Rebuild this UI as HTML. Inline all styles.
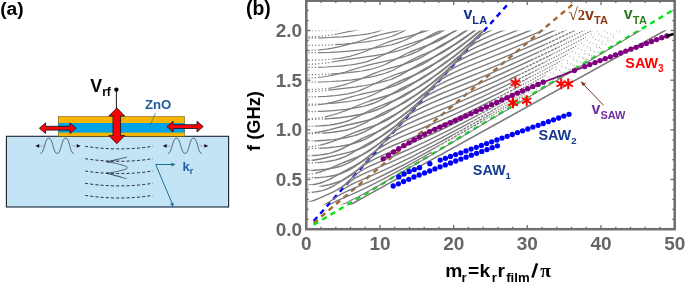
<!DOCTYPE html>
<html><head><meta charset="utf-8"><title>fig</title>
<style>
html,body{margin:0;padding:0;background:#fff;}
body{width:685px;height:284px;overflow:hidden;font-family:"Liberation Sans",sans-serif;}
svg{display:block;will-change:transform;}
text{font-family:"Liberation Sans",sans-serif;font-weight:bold;}
.ser{font-family:"Liberation Serif",serif;}
</style></head><body>
<svg width="685" height="284" viewBox="0 0 685 284">
<defs>
<clipPath id="cpAll"><rect x="306" y="30.5" width="370" height="173.9"/></clipPath>
<clipPath id="cpSolid"><path d="M300.0 25.0 L300.0 236.0 L415.0 236.0 L415.0 163.0 L440.0 145.0 L468.0 125.0 L505.0 90.0 L530.0 62.0 L557.0 31.0 L560.0 25.0 Z"/></clipPath>
<clipPath id="cpDot"><path d="M560.0 25.0 L557.0 31.0 L530.0 62.0 L505.0 90.0 L468.0 125.0 L440.0 145.0 L415.0 163.0 L415.0 236.0 L415.0 236.0 L415.0 205.5 L423.5 163.0 L450.0 145.0 L479.0 125.0 L517.5 90.0 L545.0 62.0 L574.5 31.0 L577.5 25.0 Z"/></clipPath>
<clipPath id="cpDot2"><path d="M577.5 25.0 L574.5 31.0 L545.0 62.0 L517.5 90.0 L479.0 125.0 L450.0 145.0 L423.5 163.0 L415.0 205.5 L415.0 236.0 L415.0 236.0 L415.0 175.0 L432.0 163.0 L460.0 145.0 L490.0 125.0 L530.0 90.0 L560.0 62.0 L592.0 31.0 L595.0 25.0 Z"/></clipPath>
<clipPath id="cpSparse"><path d="M595.0 25.0 L592.0 31.0 L560.0 62.0 L530.0 90.0 L490.0 125.0 L460.0 145.0 L432.0 163.0 L415.0 175.0 L415.0 236.0 L415.0 236.0 L455.0 175.0 L470.0 163.0 L490.0 145.0 L515.0 125.0 L552.0 90.0 L588.0 62.0 L622.0 31.0 L626.0 25.0 Z"/></clipPath>
<clipPath id="cpGreenTop"><rect x="446.3" y="0" width="300" height="236"/></clipPath>
<clipPath id="cpLZ2"><path d="M300.0 25.0 L300.0 236.0 L309.0 185.0 L313.0 150.0 L318.0 110.0 L319.0 25.0 Z"/></clipPath>
<clipPath id="cpNotLZ2"><path d="M319.0 25.0 L318.0 110.0 L313.0 150.0 L309.0 185.0 L690.0 236.0 L690.0 25.0 Z"/></clipPath>
<clipPath id="cpS1"><rect x="300" y="0" width="131.6" height="236"/></clipPath>
<clipPath id="cpLZ"><path d="M300.0 25.0 L300.0 236.0 L309.0 210.0 L314.0 180.0 L323.0 130.0 L330.0 80.0 L336.0 40.0 L337.0 25.0 Z"/></clipPath>
<clipPath id="cpNotLZ"><path d="M337.0 25.0 L336.0 40.0 L330.0 80.0 L323.0 130.0 L314.0 180.0 L309.0 210.0 L690.0 236.0 L690.0 25.0 Z"/></clipPath>
<g id="gS">
<path d="M321.0 206.9 L326.2 203.5 L329.9 200.9 L332.8 198.5 L339.5 192.6 L342.4 190.2 L345.4 188.0 L346.8 187.1 L349.0 185.8 L352.7 183.8 L356.4 182.1 L373.3 174.9 L380.7 171.6 L391.0 166.9 L399.9 162.7 L410.9 157.3 L422.7 151.2 L434.5 145.1 L448.5 137.5 L463.2 129.4 L482.4 118.7 L502.3 107.5 L524.4 94.8 L550.2 79.9 L574.5 65.8 L639.3 27.7"/>
<path d="M308.5 199.8 L312.2 199.6 L315.1 199.3 L318.1 198.9 L320.3 198.5 L323.2 197.8 L325.5 197.0 L327.7 196.1 L329.9 195.1 L332.1 193.9 L334.3 192.5 L337.2 190.5 L339.5 188.9 L341.7 187.2 L344.6 184.7 L352.7 177.3 L356.4 174.2 L357.9 173.0 L360.1 171.5 L362.3 170.1 L364.5 168.9 L368.2 166.9 L373.3 164.5 L378.5 162.3 L394.0 155.8 L402.8 152.0 L413.1 147.4 L423.5 142.6 L433.8 137.7 L445.6 131.9 L457.3 125.9 L471.3 118.7 L486.8 110.5 L503.8 101.4 L521.4 91.7 L539.9 81.4 L558.3 71.1 L581.1 58.1 L605.4 44.2 L634.2 27.6"/>
<path d="M308.5 187.9 L312.2 187.7 L317.4 187.0 L324.0 185.8 L329.1 184.7 L333.6 183.5 L337.2 182.3 L340.9 180.9 L343.9 179.5 L346.8 177.9 L349.0 176.5 L352.0 174.6 L354.2 172.9 L356.4 171.1 L358.6 169.2 L366.7 161.4 L368.9 159.3 L370.4 158.1 L372.6 156.4 L374.8 154.9 L377.0 153.5 L380.0 151.8 L385.1 149.2 L391.0 146.5 L396.9 144.0 L413.1 137.3 L423.5 132.9 L433.0 128.7 L444.1 123.8 L455.1 118.6 L466.2 113.4 L476.5 108.3 L488.3 102.5 L502.3 95.3 L516.3 88.1 L531.8 79.9 L548.0 71.2 L565.7 61.6 L584.1 51.5 L605.4 39.6 L626.8 27.6"/>
<path d="M308.5 185.0 L310.7 184.9 L312.9 184.7 L315.1 184.3 L317.4 183.8 L319.6 183.2 L321.8 182.5 L324.0 181.7 L326.2 180.8 L329.9 179.1 L333.6 177.1 L345.4 170.6 L355.7 165.1 L359.3 163.0 L362.3 161.3 L365.2 159.4 L368.2 157.3 L370.4 155.5 L371.9 154.2 L374.1 152.2 L382.9 143.4 L385.1 141.4 L386.6 140.2 L388.8 138.6 L391.0 137.2 L394.0 135.6 L396.9 134.0 L402.1 131.5 L409.5 128.2 L441.1 115.1 L450.7 111.0 L460.3 106.8 L469.9 102.5 L479.4 98.1 L490.5 92.9 L500.1 88.3 L511.9 82.6 L525.9 75.6 L539.1 68.9 L553.9 61.3 L567.9 54.0 L583.3 45.8 L600.3 36.7 L616.5 27.9"/>
<path d="M308.5 170.4 L314.4 170.2 L320.3 169.8 L326.2 169.2 L331.4 168.4 L335.8 167.5 L340.2 166.3 L342.4 165.6 L344.6 164.7 L348.3 163.1 L350.5 161.9 L352.7 160.7 L357.1 158.0 L377.8 144.5 L382.9 140.9 L385.1 139.2 L388.1 136.6 L390.3 134.4 L397.7 126.8 L399.1 125.4 L400.6 124.1 L402.1 122.9 L404.3 121.4 L407.2 119.6 L410.2 118.0 L413.1 116.5 L416.8 114.8 L424.9 111.1 L433.0 107.7 L461.0 96.3 L479.4 88.4 L494.9 81.6 L511.1 74.1 L521.4 69.3 L533.2 63.7 L555.3 52.8 L577.4 41.7 L604.7 27.6"/>
<path d="M308.5 160.5 L311.5 160.3 L314.4 160.0 L317.4 159.5 L320.3 159.0 L324.7 158.0 L344.6 153.4 L350.5 151.9 L355.7 150.3 L360.1 148.7 L362.3 147.8 L364.5 146.8 L366.7 145.7 L369.7 144.0 L371.9 142.7 L374.8 140.8 L378.5 138.2 L388.8 130.7 L396.9 125.0 L399.1 123.4 L401.3 121.6 L403.6 119.5 L413.1 109.6 L414.6 108.1 L416.1 106.8 L417.6 105.6 L419.0 104.6 L421.2 103.3 L424.2 101.6 L427.9 99.7 L431.6 98.0 L436.0 96.0 L440.4 94.0 L449.2 90.3 L473.6 80.5 L488.3 74.3 L503.8 67.7 L519.2 60.9 L536.2 53.2 L552.4 45.7 L570.1 37.2 L589.2 27.8"/>
<path d="M308.5 155.7 L312.9 155.5 L316.6 155.3 L320.3 154.9 L323.2 154.5 L326.2 154.0 L329.1 153.4 L332.1 152.6 L334.3 151.8 L338.0 150.5 L342.4 148.5 L346.8 146.4 L357.9 140.6 L362.3 138.4 L366.7 136.4 L375.6 132.6 L380.0 130.5 L382.9 129.0 L385.9 127.3 L388.8 125.5 L391.8 123.5 L396.2 120.3 L407.2 111.7 L414.6 106.3 L416.8 104.5 L419.0 102.4 L427.9 93.1 L430.8 90.1 L432.3 88.9 L433.8 87.8 L436.0 86.5 L438.2 85.2 L441.9 83.3 L446.3 81.2 L451.4 78.8 L457.3 76.3 L466.9 72.3 L501.6 58.3 L514.1 53.1 L528.1 47.1 L548.7 38.0 L559.8 33.0 L571.5 27.6"/>
<path d="M308.5 141.0 L317.4 140.8 L325.5 140.3 L329.9 139.9 L333.6 139.6 L337.2 139.1 L340.9 138.6 L343.9 138.1 L347.6 137.3 L350.5 136.6 L353.5 135.9 L355.7 135.2 L358.6 134.2 L361.6 133.0 L363.8 132.1 L366.7 130.6 L370.4 128.6 L381.5 121.9 L385.9 119.3 L396.9 113.3 L400.6 111.3 L404.3 109.0 L408.0 106.5 L410.2 104.9 L413.1 102.6 L423.5 94.1 L430.1 89.2 L431.6 88.0 L433.0 86.7 L434.5 85.2 L443.3 75.8 L446.3 72.8 L447.0 72.2 L448.5 71.0 L450.0 70.1 L452.2 68.8 L455.9 66.8 L461.0 64.3 L466.9 61.6 L472.8 59.1 L484.6 54.3 L520.7 39.7 L535.4 33.6 L549.4 27.7"/>
<path d="M308.5 133.0 L312.9 132.7 L318.1 132.1 L323.2 131.3 L329.1 129.9 L344.6 125.8 L360.8 122.0 L368.2 120.1 L372.6 118.8 L376.3 117.6 L380.0 116.1 L383.7 114.5 L385.9 113.4 L388.1 112.2 L392.5 109.5 L405.8 100.9 L419.8 92.4 L422.7 90.4 L425.7 88.3 L429.3 85.3 L438.9 77.1 L441.9 74.8 L446.3 71.5 L447.8 70.2 L450.7 67.3 L458.8 58.5 L461.0 56.3 L462.5 54.9 L463.2 54.3 L465.4 52.8 L468.4 51.1 L472.8 48.9 L478.0 46.4 L484.6 43.5 L491.2 40.7 L498.6 37.7 L523.7 27.7"/>
<path d="M308.5 126.3 L314.4 126.1 L319.6 125.9 L324.7 125.5 L329.1 125.1 L333.6 124.5 L337.2 123.8 L340.9 123.0 L344.6 121.9 L346.8 121.2 L349.8 120.1 L354.9 117.9 L360.1 115.4 L371.1 109.9 L376.3 107.6 L381.5 105.4 L391.0 101.8 L395.5 100.0 L399.9 98.1 L403.6 96.3 L407.2 94.2 L411.7 91.5 L424.9 82.3 L437.5 74.2 L439.7 72.6 L441.9 71.0 L445.6 67.9 L455.1 59.4 L458.1 57.1 L461.8 54.3 L463.2 53.0 L466.2 50.1 L475.8 39.7 L478.0 37.6 L479.4 36.4 L480.9 35.5 L482.4 34.6 L486.1 32.7 L491.2 30.2 L497.1 27.6"/>
<path d="M308.5 111.6 L315.1 111.5 L320.3 111.3 L325.5 111.1 L330.6 110.8 L335.8 110.4 L340.9 109.9 L346.1 109.3 L350.5 108.6 L354.9 107.9 L359.3 107.1 L363.0 106.3 L366.7 105.4 L369.7 104.5 L372.6 103.5 L375.6 102.4 L378.5 101.1 L381.5 99.7 L384.4 98.1 L396.2 91.3 L401.3 88.5 L405.8 86.3 L416.1 81.5 L420.5 79.3 L424.9 76.7 L429.3 73.9 L433.0 71.3 L442.6 64.3 L446.3 61.7 L453.7 56.8 L455.9 55.2 L458.1 53.5 L461.8 50.4 L468.4 44.3 L471.3 41.7 L473.6 39.9 L477.2 37.1 L478.7 35.8 L480.9 33.6 L486.1 28.0"/>
<path d="M308.5 105.5 L311.5 105.4 L314.4 105.2 L317.4 104.9 L320.3 104.5 L326.2 103.6 L332.1 102.3 L338.7 100.6 L351.2 96.9 L356.4 95.5 L361.6 94.2 L376.3 90.9 L384.4 88.9 L388.1 87.8 L391.8 86.6 L395.5 85.3 L398.4 84.0 L402.1 82.3 L405.8 80.3 L409.5 78.1 L417.6 73.1 L422.0 70.4 L426.4 67.9 L438.2 61.6 L441.9 59.5 L444.8 57.6 L447.0 56.1 L450.0 53.9 L461.0 45.5 L464.0 43.4 L469.9 39.4 L472.8 37.2 L475.0 35.4 L477.2 33.5 L483.1 27.9"/>
<path d="M308.5 96.9 L318.1 96.7 L326.2 96.3 L335.0 95.6 L338.7 95.2 L342.4 94.7 L347.6 93.8 L350.5 93.2 L352.7 92.6 L355.7 91.8 L357.9 91.1 L363.0 89.1 L368.9 86.5 L382.9 79.8 L388.8 77.2 L394.7 74.9 L407.2 70.6 L412.4 68.7 L417.6 66.6 L420.5 65.2 L422.7 64.1 L425.7 62.4 L428.6 60.6 L438.9 53.9 L443.3 51.1 L447.0 48.9 L455.9 43.8 L460.3 41.1 L463.2 39.1 L466.2 36.9 L478.0 27.6"/>
<path d="M308.5 82.2 L320.3 82.0 L331.4 81.5 L341.7 80.8 L346.8 80.3 L352.0 79.8 L357.1 79.1 L361.6 78.5 L366.7 77.7 L371.1 76.9 L374.8 76.1 L378.5 75.2 L382.2 74.2 L385.1 73.3 L389.6 71.6 L391.8 70.7 L394.7 69.3 L399.9 66.5 L410.9 60.4 L413.9 58.9 L416.8 57.4 L421.2 55.4 L433.8 50.1 L437.5 48.4 L440.4 46.9 L443.3 45.3 L447.0 43.0 L450.7 40.6 L461.8 33.1 L465.4 30.8 L470.6 27.6"/>
<path d="M308.5 78.0 L311.5 77.9 L315.1 77.7 L318.1 77.4 L321.8 77.0 L325.5 76.5 L328.4 76.0 L335.0 74.6 L340.2 73.4 L345.4 72.0 L350.5 70.4 L361.6 67.0 L367.5 65.3 L373.3 63.9 L387.3 60.9 L394.0 59.4 L400.6 57.6 L405.8 56.1 L408.7 55.1 L411.7 54.0 L414.6 52.7 L417.6 51.3 L422.7 48.5 L433.8 41.9 L438.9 39.0 L444.1 36.4 L455.1 31.1 L458.1 29.5 L461.0 27.9"/>
<path d="M308.5 67.5 L318.1 67.3 L326.2 67.0 L334.3 66.5 L342.4 65.9 L349.8 65.0 L355.7 64.2 L360.8 63.2 L365.2 62.1 L367.5 61.4 L370.4 60.4 L373.3 59.3 L376.3 58.1 L382.2 55.5 L396.2 48.9 L399.9 47.3 L402.8 46.2 L408.7 44.1 L424.9 38.9 L428.6 37.6 L432.3 36.2 L436.0 34.5 L439.7 32.7 L443.3 30.6 L447.8 27.9"/>
<path d="M308.5 52.8 L319.6 52.6 L329.9 52.3 L339.5 51.8 L349.0 51.1 L358.6 50.2 L368.2 49.0 L377.0 47.7 L385.1 46.2 L390.3 45.0 L394.7 43.9 L399.1 42.4 L402.8 41.0 L406.5 39.4 L410.2 37.6 L423.5 30.4 L428.6 27.8"/>
<path d="M308.5 50.5 L312.2 50.4 L315.9 50.2 L319.6 49.9 L323.2 49.5 L327.7 48.9 L331.4 48.3 L338.7 46.8 L345.4 45.2 L352.7 43.2 L359.3 41.2 L372.6 36.9 L376.3 35.8 L379.2 35.0 L385.9 33.4 L404.3 29.5 L412.4 27.6"/>
<path d="M308.5 38.0 L315.9 38.0 L322.5 37.8 L329.1 37.5 L335.8 37.2 L342.4 36.8 L348.3 36.3 L354.2 35.7 L360.1 35.0 L364.5 34.4 L368.2 33.8 L371.9 33.0 L374.8 32.3 L377.8 31.5 L381.5 30.3 L384.4 29.2 L388.1 27.7"/>
</g>
<g id="gA">
<path d="M308.5 207.2 L313.7 207.1 L315.9 207.0 L317.4 206.8 L319.6 206.4 L321.0 206.0 L322.5 205.5 L324.0 204.9 L325.5 204.1 L327.7 202.9 L329.9 201.5 L337.2 196.5 L340.2 194.7 L343.1 193.1 L346.1 191.7 L349.0 190.4 L362.3 184.7 L368.9 181.8 L375.6 178.8 L381.5 176.0 L389.6 172.0 L398.4 167.5 L406.5 163.3 L417.6 157.4 L434.5 148.1 L453.7 137.4 L474.3 125.6 L500.1 110.7 L528.1 94.4 L560.5 75.4 L641.5 27.5"/>
<path d="M308.5 201.6 L310.0 201.4 L312.2 200.9 L314.4 200.2 L316.6 199.4 L321.8 197.2 L332.8 192.1 L336.5 190.2 L339.5 188.5 L342.4 186.6 L349.0 182.1 L352.0 180.1 L355.7 177.9 L359.3 175.9 L363.0 174.2 L367.5 172.2 L385.1 164.7 L393.2 161.2 L402.1 157.2 L410.2 153.4 L420.5 148.4 L431.6 142.9 L441.9 137.6 L455.1 130.7 L472.1 121.6 L488.3 112.8 L509.7 100.9 L531.0 88.9 L553.9 75.9 L578.9 61.4 L606.2 45.7 L637.1 27.6"/>
<path d="M308.5 192.4 L312.2 192.2 L315.1 191.9 L318.1 191.5 L321.0 190.9 L324.0 190.1 L326.2 189.3 L328.4 188.4 L331.4 187.0 L333.6 185.8 L335.8 184.5 L340.9 181.3 L350.5 174.8 L361.6 167.0 L364.5 165.0 L368.2 162.7 L372.6 160.1 L377.0 157.9 L382.9 155.2 L412.4 142.8 L422.7 138.2 L433.0 133.5 L444.8 128.0 L455.9 122.7 L468.4 116.4 L480.2 110.4 L494.2 103.2 L509.7 95.0 L527.3 85.5 L544.3 76.2 L563.4 65.6 L582.6 54.9 L604.7 42.5 L630.5 27.8"/>
<path d="M308.5 177.7 L315.1 177.7 L320.3 177.4 L325.5 176.9 L329.9 176.3 L334.3 175.4 L338.7 174.2 L340.9 173.5 L343.1 172.7 L346.8 171.1 L349.8 169.6 L352.0 168.3 L354.2 166.9 L357.1 164.9 L360.1 162.8 L363.0 160.6 L373.3 152.5 L376.3 150.4 L378.5 148.8 L381.5 146.9 L383.7 145.6 L385.9 144.3 L388.8 142.7 L394.0 140.2 L400.6 137.2 L432.3 124.0 L441.9 119.9 L452.2 115.3 L462.5 110.6 L473.6 105.4 L483.9 100.5 L494.9 95.1 L508.2 88.5 L521.4 81.7 L535.4 74.5 L551.7 66.0 L567.9 57.3 L584.1 48.5 L602.5 38.5 L621.7 27.9"/>
<path d="M308.5 174.2 L310.0 174.1 L312.2 173.8 L315.9 173.1 L319.6 172.1 L324.0 170.6 L329.9 168.3 L343.1 162.7 L355.7 157.8 L358.6 156.5 L361.6 155.2 L364.5 153.6 L367.5 152.0 L370.4 150.1 L373.3 148.0 L375.6 146.4 L378.5 144.0 L388.1 136.0 L391.0 133.7 L393.2 132.1 L395.5 130.7 L398.4 128.8 L401.3 127.2 L404.3 125.6 L410.2 122.8 L417.6 119.5 L450.0 106.1 L468.4 98.2 L486.8 90.0 L506.0 81.1 L517.8 75.5 L530.3 69.4 L542.1 63.5 L555.3 56.8 L567.9 50.4 L582.6 42.7 L610.6 27.9"/>
<path d="M308.5 163.0 L314.4 162.8 L320.3 162.4 L325.5 161.9 L330.6 161.0 L335.0 160.1 L338.7 159.0 L342.4 157.7 L346.1 156.1 L349.0 154.6 L352.0 153.0 L365.2 145.2 L378.5 138.0 L381.5 136.3 L384.4 134.5 L388.1 132.0 L391.8 129.1 L394.7 126.6 L402.8 119.4 L405.0 117.6 L407.2 115.9 L409.5 114.4 L412.4 112.5 L415.3 110.8 L419.0 108.9 L424.9 106.0 L432.3 102.7 L441.1 99.0 L466.9 88.5 L480.2 83.0 L498.6 75.0 L515.6 67.4 L534.7 58.5 L553.9 49.4 L575.2 38.9 L597.3 27.7"/>
<path d="M308.5 148.3 L317.4 148.3 L324.7 148.0 L328.4 147.7 L332.1 147.3 L335.8 146.9 L339.5 146.4 L346.1 145.2 L349.8 144.4 L352.7 143.6 L355.7 142.8 L358.6 141.8 L361.6 140.7 L363.8 139.8 L366.0 138.8 L368.2 137.7 L370.4 136.4 L373.3 134.7 L377.0 132.3 L387.3 125.6 L397.7 119.2 L402.1 116.3 L405.0 114.1 L408.0 111.7 L410.9 109.1 L418.3 102.3 L420.5 100.4 L422.0 99.2 L424.2 97.6 L426.4 96.2 L429.3 94.4 L433.0 92.5 L436.7 90.6 L440.4 88.9 L449.2 85.0 L458.8 81.0 L480.9 72.1 L494.2 66.6 L508.9 60.4 L522.9 54.4 L536.9 48.1 L550.9 41.8 L565.7 34.9 L581.1 27.5"/>
<path d="M308.5 146.7 L310.7 146.6 L313.7 146.2 L315.9 145.9 L318.8 145.3 L324.0 144.1 L326.9 143.3 L329.9 142.4 L333.6 141.1 L338.0 139.4 L351.2 133.9 L355.7 132.1 L360.1 130.5 L369.7 127.3 L374.1 125.8 L378.5 124.1 L382.2 122.4 L385.1 121.0 L387.3 119.8 L389.6 118.5 L392.5 116.6 L396.2 114.1 L407.2 106.3 L416.1 100.4 L419.0 98.4 L422.0 96.1 L424.2 94.2 L427.1 91.5 L433.0 85.8 L435.2 83.8 L436.7 82.5 L438.9 80.8 L441.1 79.4 L443.3 78.0 L446.3 76.4 L450.0 74.5 L454.4 72.4 L458.8 70.4 L464.0 68.2 L475.0 63.6 L506.7 50.8 L521.4 44.7 L540.6 36.6 L561.2 27.5"/>
<path d="M308.5 133.6 L316.6 133.4 L324.7 133.0 L329.1 132.6 L332.8 132.2 L339.5 131.3 L342.4 130.8 L345.4 130.2 L348.3 129.5 L350.5 128.9 L353.5 127.9 L355.7 127.1 L357.9 126.2 L360.1 125.2 L363.0 123.8 L366.0 122.3 L377.0 116.1 L382.2 113.4 L386.6 111.2 L396.2 106.9 L400.6 104.7 L405.0 102.3 L408.7 100.0 L410.9 98.5 L413.9 96.4 L425.7 87.6 L433.8 81.9 L436.0 80.3 L438.2 78.5 L440.4 76.5 L449.2 67.9 L452.2 65.3 L453.7 64.1 L455.1 63.0 L457.3 61.6 L459.6 60.3 L464.0 58.0 L468.4 55.9 L473.6 53.5 L480.2 50.7 L491.2 46.1 L521.4 34.0 L536.9 27.7"/>
<path d="M308.5 119.3 L314.4 119.3 L318.8 119.2 L324.0 119.0 L329.1 118.6 L334.3 118.2 L339.5 117.7 L345.4 117.0 L350.5 116.2 L355.7 115.3 L360.1 114.5 L364.5 113.5 L368.2 112.6 L371.9 111.5 L375.6 110.3 L378.5 109.2 L381.5 107.9 L385.1 106.1 L388.8 104.0 L400.6 96.8 L405.0 94.2 L408.7 92.2 L416.8 87.9 L419.8 86.3 L423.5 84.0 L427.1 81.6 L431.6 78.3 L441.9 70.2 L444.8 68.0 L450.7 63.8 L452.9 62.1 L454.4 60.9 L456.6 58.8 L464.0 51.5 L466.9 48.7 L469.1 46.8 L470.6 45.7 L472.1 44.8 L475.0 43.1 L478.0 41.5 L481.7 39.7 L486.1 37.7 L496.4 33.2 L509.7 27.8"/>
<path d="M308.5 118.9 L311.5 118.7 L315.1 118.4 L318.8 117.9 L322.5 117.3 L326.2 116.5 L329.1 115.8 L332.8 114.9 L336.5 113.8 L341.7 112.1 L346.8 110.1 L352.0 108.1 L362.3 103.8 L367.5 101.8 L373.3 99.8 L385.9 96.0 L391.8 94.1 L394.7 93.0 L397.7 91.8 L400.6 90.6 L402.8 89.5 L406.5 87.5 L410.2 85.3 L424.2 76.2 L427.9 74.0 L435.2 69.7 L438.9 67.5 L441.9 65.5 L444.8 63.4 L448.5 60.6 L458.8 52.2 L461.8 50.0 L466.9 46.2 L469.1 44.5 L470.6 43.1 L472.8 41.0 L479.4 34.3 L482.4 31.4 L484.6 29.5 L486.8 27.9"/>
<path d="M308.5 104.2 L318.8 104.0 L324.0 103.8 L329.1 103.5 L334.3 103.1 L338.7 102.7 L343.1 102.2 L347.6 101.6 L351.2 101.0 L354.9 100.4 L358.6 99.6 L361.6 98.8 L364.5 98.0 L366.7 97.3 L368.9 96.4 L371.9 95.2 L374.8 93.9 L377.8 92.4 L390.3 85.7 L395.5 83.1 L401.3 80.5 L412.4 76.0 L416.8 74.1 L419.8 72.7 L422.0 71.6 L426.4 69.1 L431.6 65.8 L443.3 57.7 L447.0 55.3 L455.1 50.3 L459.6 47.3 L461.8 45.7 L464.7 43.3 L472.8 36.5 L475.8 34.1 L483.9 28.0"/>
<path d="M308.5 91.8 L312.2 91.7 L315.9 91.4 L323.2 90.8 L348.3 87.9 L354.9 87.1 L360.8 86.2 L365.2 85.5 L370.4 84.5 L374.8 83.7 L378.5 82.8 L382.2 81.9 L385.9 80.9 L388.8 80.0 L391.8 79.0 L396.2 77.1 L399.9 75.3 L404.3 72.9 L414.6 66.9 L419.8 64.0 L424.9 61.4 L436.7 55.7 L439.7 54.2 L442.6 52.5 L445.6 50.7 L448.5 48.8 L461.0 39.8 L464.7 37.3 L473.6 31.6 L476.5 29.5 L478.7 27.8"/>
<path d="M308.5 89.5 L313.7 89.4 L318.1 89.2 L322.5 88.9 L326.2 88.6 L329.9 88.1 L333.6 87.5 L337.2 86.7 L340.9 85.7 L343.9 84.9 L347.6 83.7 L354.2 81.4 L361.6 78.6 L374.8 73.1 L380.7 71.0 L386.6 69.1 L398.4 65.8 L403.6 64.3 L408.0 62.9 L412.4 61.3 L415.3 60.1 L418.3 58.8 L421.2 57.3 L424.2 55.7 L427.9 53.5 L436.7 48.0 L441.1 45.3 L445.6 42.8 L455.9 37.4 L460.3 34.9 L462.5 33.5 L465.4 31.5 L470.6 27.8"/>
<path d="M308.5 74.8 L318.8 74.6 L329.1 74.2 L338.7 73.6 L348.3 72.7 L357.1 71.6 L361.6 71.0 L365.2 70.4 L368.9 69.6 L371.9 69.0 L374.8 68.2 L377.0 67.5 L379.2 66.8 L382.2 65.7 L384.4 64.8 L387.3 63.4 L392.5 60.9 L404.3 54.8 L407.2 53.3 L410.2 52.0 L416.1 49.6 L426.4 45.8 L430.8 44.1 L434.5 42.6 L437.5 41.3 L441.1 39.4 L445.6 36.8 L449.2 34.5 L459.6 27.8"/>
<path d="M308.5 64.3 L313.7 64.1 L318.8 63.7 L324.0 63.2 L329.1 62.5 L346.8 59.6 L366.0 56.9 L376.3 55.3 L382.2 54.3 L387.3 53.3 L392.5 52.2 L396.9 51.1 L401.3 49.8 L405.0 48.6 L408.7 47.1 L411.7 45.8 L414.6 44.4 L417.6 42.8 L428.6 36.5 L433.8 33.7 L436.7 32.3 L439.7 30.9 L447.0 27.7"/>
<path d="M308.5 60.1 L315.1 60.0 L321.8 59.8 L328.4 59.4 L333.6 59.0 L338.0 58.5 L342.4 57.9 L346.1 57.2 L349.8 56.3 L352.7 55.5 L356.4 54.4 L360.1 53.2 L363.8 51.9 L371.1 49.0 L385.1 43.3 L388.8 41.9 L391.8 40.9 L394.7 39.9 L398.4 38.8 L413.9 34.8 L421.2 32.6 L424.9 31.4 L428.6 30.1 L431.6 28.9 L434.5 27.5"/>
<path d="M308.5 45.4 L317.4 45.3 L326.2 45.0 L335.0 44.6 L343.9 44.1 L352.0 43.4 L360.1 42.5 L367.5 41.6 L374.8 40.5 L380.0 39.5 L384.4 38.5 L388.1 37.5 L391.8 36.3 L395.5 34.9 L399.1 33.2 L403.6 31.1 L410.2 27.8"/>
<path d="M308.5 36.8 L313.7 36.6 L319.6 36.3 L325.5 35.7 L330.6 35.0 L335.0 34.3 L339.5 33.5 L353.5 30.6 L357.9 29.8 L363.8 28.8 L371.9 27.6"/>
<path d="M308.5 30.7 L315.9 30.6 L322.5 30.4 L329.1 30.2 L335.8 29.8 L341.7 29.3 L346.8 28.8 L351.2 28.2 L354.9 27.6"/>
</g>
<clipPath id="cpThin"><path d="M300 20 L425 20 L400 70 L362 108 L300 122 Z"/></clipPath>
<clipPath id="cpThick"><path d="M425 20 L690 20 L690 240 L300 240 L300 122 L362 108 L400 70 Z"/></clipPath>
</defs>
<rect width="685" height="284" fill="#fff"/>

<!-- ===== panel (a) ===== -->
<text x="0.2" y="15.4" font-size="19.2">(a)</text>
<g id="panelA">
<rect x="6.4" y="136.3" width="222.2" height="70.7" fill="#c3e4f5" stroke="#16222e" stroke-width="1.1"/>
<line x1="46" y1="207" x2="173" y2="207" stroke="#3f86ad" stroke-width="1.1" stroke-dasharray="2 3"/>
<rect x="58.3" y="116.4" width="126.3" height="19.9" fill="#f7b500"/>
<rect x="58.3" y="123.0" width="126.3" height="9.6" fill="#00a2e8"/>
<rect x="58.3" y="116.4" width="126.3" height="19.9" fill="none" stroke="#5a4a20" stroke-width="0.5"/>
<!-- ZnO -->
<text x="145" y="109" font-size="13.2" fill="#1f5c9e">ZnO</text>
<line x1="155.6" y1="112.9" x2="149.8" y2="126" stroke="#2a6f94" stroke-width="0.7"/>
<!-- Vrf -->
<text x="90.3" y="91.8" font-size="17.8" fill="#000">V<tspan font-size="12" dy="4.2">rf</tspan></text>
<circle cx="116.4" cy="89.6" r="2.2" fill="#000"/>
<line x1="116.4" y1="89.6" x2="116.4" y2="109" stroke="#000" stroke-width="0.9"/>
<!-- red arrows -->
<g fill="#ff0000" stroke="#1c1c28" stroke-width="0.9" stroke-linejoin="miter">
<path d="M116.8 107.9 L124.7 116.0 L120.6 116.0 L120.6 135.6 L124.7 135.6 L116.8 143.7 L108.9 135.6 L113.0 135.6 L113.0 116.0 L108.9 116.0 Z"/>
<path d="M39.4 128.2 L45.6 122.9 L45.6 126.3 L70.0 126.3 L70.0 122.9 L76.2 128.2 L70.0 133.5 L70.0 130.1 L45.6 130.1 L45.6 133.5 Z"/>
<path d="M166.9 126.6 L173.1 121.3 L173.1 124.7 L197.0 124.7 L197.0 121.3 L203.2 126.6 L197.0 131.9 L197.0 128.5 L173.1 128.5 L173.1 131.9 Z"/>
</g>
<!-- waves -->
<g fill="none" stroke="#34424f" stroke-width="0.75">
<path d="M40.3 153.5 C44.5 153.5 44.6 138 48.8 138 C53 138 53 153.5 57.2 153.5 C61.4 153.5 61.5 138 65.7 138 C69.9 138 69.6 153.5 73.8 153.5"/>
<path d="M167.9 153.5 C172.1 153.5 172.2 138 176.4 138 C180.6 138 180.9 153.5 185.1 153.5 C189.3 153.5 189.3 138 193.5 138 C197.7 138 197.6 153.5 201.8 153.5"/>
<path d="M127 157.1 L106.2 161.9 Q116 162.6 124.3 165.7 Q130.6 167.8 124.3 169.7 Q116 172.4 106.2 173.1 L126.7 178.7"/>
<path d="M107.2 162.2 L119 159.6 M107.2 173.4 L121 176.9" stroke-width="0.5"/>
</g>
<g stroke="#a9bcc0" stroke-width="1.3"><line x1="38.9" y1="145.9" x2="44" y2="145.9"/><line x1="71.5" y1="145.9" x2="77" y2="145.9"/><line x1="166.2" y1="145.9" x2="171.5" y2="145.9"/><line x1="199.3" y1="145.9" x2="204.6" y2="145.9"/></g>
<g fill="#0c0c10"><path d="M35.4 145.9 L39.2 144 L39.2 147.8 Z"/><path d="M80.6 145.9 L76.8 144 L76.8 147.8 Z"/><path d="M162.8 145.9 L166.6 144 L166.6 147.8 Z"/><path d="M208.2 145.9 L204.4 144 L204.4 147.8 Z"/></g>
<!-- dashed wavefronts -->
<g fill="none" stroke="#1a212b" stroke-width="0.95" stroke-dasharray="3 2.2">
<path d="M85.1 146.3 Q119 151.5 152.8 146.3"/>
<path d="M85.1 158.7 Q119 163.9 152.8 158.7"/>
<path d="M85.1 171.0 Q119 176.2 152.8 171.0"/>
<path d="M85.1 183.3 Q119 188.5 152.8 183.3"/>
<path d="M85.1 195.4 Q119 200.6 152.8 195.4"/>
</g>
<!-- k_r -->
<g stroke="#1f6f94" stroke-width="1" fill="#1f6f94">
<line x1="155.7" y1="164.5" x2="172.5" y2="164.5"/><path d="M175.6 164.5 L171.4 162.6 L171.4 166.4 Z" stroke="none"/>
<line x1="155.7" y1="164.5" x2="172.4" y2="204"/><path d="M173.5 206.8 L170 203.9 L173.5 202.4 Z" stroke="none"/>
</g>
<text x="182.6" y="170.9" font-size="13" fill="#1f5fa8">k<tspan font-size="9" dy="2.6">r</tspan></text>
</g>

<!-- ===== panel (b) ===== -->
<text x="246.0" y="15.0" font-size="19.4">(b)</text>
<text transform="translate(260.0,121) rotate(-90)" text-anchor="middle" font-size="18.3">f (GHz)</text>
<g font-size="19.2"><text x="445.2" y="277.3">m</text><text x="467.9" y="277.3">=</text><text x="479.4" y="277.3">k</text><text x="497.5" y="277.3">r</text></g>
<g font-size="13.2"><text x="461.5" y="282.2">r</text><text x="491.8" y="282.2">r</text><text x="506.2" y="281.7">film</text></g>
<path d="M532.4 277.6 L537.0 263.3" stroke="#000" stroke-width="2.5" fill="none"/>
<text x="540.2" y="277.2" class="ser" font-weight="normal" font-size="19.5">π</text>
<g font-size="19" fill="#666"><text x="302.2" y="235.8" text-anchor="end">0.0</text><text x="302.2" y="186.1" text-anchor="end">0.5</text><text x="302.2" y="136.4" text-anchor="end">1.0</text><text x="302.2" y="86.8" text-anchor="end">1.5</text><text x="302.2" y="37.1" text-anchor="end">2.0</text><text x="306.3" y="250.4" text-anchor="middle">0</text><text x="380.0" y="250.4" text-anchor="middle">10</text><text x="453.7" y="250.4" text-anchor="middle">20</text><text x="527.3" y="250.4" text-anchor="middle">30</text><text x="601.0" y="250.4" text-anchor="middle">40</text><text x="674.7" y="250.4" text-anchor="middle">50</text></g>

<!-- reference dashed lines (below gray) -->
<g fill="none" stroke-width="2.4" stroke-dasharray="5.3 4.5">
<path d="M313.7 221.0 L509.7 2.2" stroke="#0000ff"/>
<path d="M313.7 223.0 L573.0 4.1" stroke="#a5662f"/>
<path d="M313.7 224.8 L674.7 9.1" stroke="#00e615"/>
</g>

<!-- gray dispersion curves -->
<g clip-path="url(#cpAll)" fill="none" stroke="#7e7e7e" stroke-linejoin="round">
<g stroke-width="1.3">
<path d="M345.4 207.2 L359.3 199.7 L383.7 186.3 L670.3 27.6"/>
<path d="M346.8 207.0 L364.5 197.0 L391.0 182.3 L670.3 27.6"/>
</g>
<g stroke-width="1.1" transform="translate(0.4,0.7)">
<path d="M333.6 207.3 L339.5 204.8 L345.4 202.2 L351.2 199.4 L357.9 196.0 L364.5 192.5 L373.3 187.6 L382.9 182.2 L394.7 175.4 L424.2 158.2 L471.3 130.2 L540.6 89.0 L643.0 27.9"/>
</g>
<g stroke-width="1.3" clip-path="url(#cpS1)">
<path d="M326.9 207.3 L329.1 205.5 L330.6 204.4 L332.8 203.0 L335.0 201.7 L339.5 199.6 L351.2 194.6 L357.9 191.6 L365.2 188.2 L373.3 184.2 L383.7 178.8 L394.7 172.9 L406.5 166.4 L420.5 158.5 L437.5 148.8 L452.9 139.9 L496.4 114.4 L557.5 78.2 L642.3 27.9"/>
</g>
<g clip-path="url(#cpSolid)">
<g clip-path="url(#cpThick)" stroke-width="1.45"><g clip-path="url(#cpNotLZ2)"><use href="#gS"/></g><g clip-path="url(#cpNotLZ)"><use href="#gA"/></g></g>
<g clip-path="url(#cpThin)" stroke-width="1.2"><g clip-path="url(#cpNotLZ2)"><use href="#gS"/></g><g clip-path="url(#cpNotLZ)"><use href="#gA"/></g></g>
<g clip-path="url(#cpLZ)" stroke-width="1.3" stroke-dasharray="1.2 2.1"><use href="#gA"/></g>
<g clip-path="url(#cpLZ2)" stroke-width="1.3" stroke-dasharray="1.2 1.9"><use href="#gS"/></g>
</g>
<g clip-path="url(#cpDot)" stroke-width="1.35" stroke-dasharray="2.8 0.9"><use href="#gS"/><use href="#gA"/></g>
<g clip-path="url(#cpDot2)" stroke-width="1.2" stroke-dasharray="1.4 1.3"><use href="#gS"/><use href="#gA"/></g>
<g clip-path="url(#cpSparse)" stroke-width="0.95" stroke-dasharray="0.9 5.7"><use href="#gS"/><use href="#gA"/></g>
</g>

<!-- frame -->
<rect x="306.3" y="0.7" width="368.4" height="228.5" fill="none" stroke="#6e6e6e" stroke-width="2.5"/>
<g stroke="#6e6e6e" stroke-width="1.3"><line x1="306.3" y1="229.2" x2="306.3" y2="225.0"/><line x1="306.3" y1="0.7" x2="306.3" y2="4.9"/><line x1="321.0" y1="229.2" x2="321.0" y2="226.8"/><line x1="321.0" y1="0.7" x2="321.0" y2="3.1"/><line x1="335.8" y1="229.2" x2="335.8" y2="226.8"/><line x1="335.8" y1="0.7" x2="335.8" y2="3.1"/><line x1="350.5" y1="229.2" x2="350.5" y2="226.8"/><line x1="350.5" y1="0.7" x2="350.5" y2="3.1"/><line x1="365.2" y1="229.2" x2="365.2" y2="226.8"/><line x1="365.2" y1="0.7" x2="365.2" y2="3.1"/><line x1="380.0" y1="229.2" x2="380.0" y2="225.0"/><line x1="380.0" y1="0.7" x2="380.0" y2="4.9"/><line x1="394.7" y1="229.2" x2="394.7" y2="226.8"/><line x1="394.7" y1="0.7" x2="394.7" y2="3.1"/><line x1="409.5" y1="229.2" x2="409.5" y2="226.8"/><line x1="409.5" y1="0.7" x2="409.5" y2="3.1"/><line x1="424.2" y1="229.2" x2="424.2" y2="226.8"/><line x1="424.2" y1="0.7" x2="424.2" y2="3.1"/><line x1="438.9" y1="229.2" x2="438.9" y2="226.8"/><line x1="438.9" y1="0.7" x2="438.9" y2="3.1"/><line x1="453.7" y1="229.2" x2="453.7" y2="225.0"/><line x1="453.7" y1="0.7" x2="453.7" y2="4.9"/><line x1="468.4" y1="229.2" x2="468.4" y2="226.8"/><line x1="468.4" y1="0.7" x2="468.4" y2="3.1"/><line x1="483.1" y1="229.2" x2="483.1" y2="226.8"/><line x1="483.1" y1="0.7" x2="483.1" y2="3.1"/><line x1="497.9" y1="229.2" x2="497.9" y2="226.8"/><line x1="497.9" y1="0.7" x2="497.9" y2="3.1"/><line x1="512.6" y1="229.2" x2="512.6" y2="226.8"/><line x1="512.6" y1="0.7" x2="512.6" y2="3.1"/><line x1="527.3" y1="229.2" x2="527.3" y2="225.0"/><line x1="527.3" y1="0.7" x2="527.3" y2="4.9"/><line x1="542.1" y1="229.2" x2="542.1" y2="226.8"/><line x1="542.1" y1="0.7" x2="542.1" y2="3.1"/><line x1="556.8" y1="229.2" x2="556.8" y2="226.8"/><line x1="556.8" y1="0.7" x2="556.8" y2="3.1"/><line x1="571.5" y1="229.2" x2="571.5" y2="226.8"/><line x1="571.5" y1="0.7" x2="571.5" y2="3.1"/><line x1="586.3" y1="229.2" x2="586.3" y2="226.8"/><line x1="586.3" y1="0.7" x2="586.3" y2="3.1"/><line x1="601.0" y1="229.2" x2="601.0" y2="225.0"/><line x1="601.0" y1="0.7" x2="601.0" y2="4.9"/><line x1="615.8" y1="229.2" x2="615.8" y2="226.8"/><line x1="615.8" y1="0.7" x2="615.8" y2="3.1"/><line x1="630.5" y1="229.2" x2="630.5" y2="226.8"/><line x1="630.5" y1="0.7" x2="630.5" y2="3.1"/><line x1="645.2" y1="229.2" x2="645.2" y2="226.8"/><line x1="645.2" y1="0.7" x2="645.2" y2="3.1"/><line x1="660.0" y1="229.2" x2="660.0" y2="226.8"/><line x1="660.0" y1="0.7" x2="660.0" y2="3.1"/><line x1="674.7" y1="229.2" x2="674.7" y2="225.0"/><line x1="674.7" y1="0.7" x2="674.7" y2="4.9"/><line x1="306.3" y1="229.2" x2="310.5" y2="229.2"/><line x1="674.7" y1="229.2" x2="670.5" y2="229.2"/><line x1="306.3" y1="219.3" x2="308.7" y2="219.3"/><line x1="674.7" y1="219.3" x2="672.3" y2="219.3"/><line x1="306.3" y1="209.3" x2="308.7" y2="209.3"/><line x1="674.7" y1="209.3" x2="672.3" y2="209.3"/><line x1="306.3" y1="199.4" x2="308.7" y2="199.4"/><line x1="674.7" y1="199.4" x2="672.3" y2="199.4"/><line x1="306.3" y1="189.5" x2="308.7" y2="189.5"/><line x1="674.7" y1="189.5" x2="672.3" y2="189.5"/><line x1="306.3" y1="179.5" x2="310.5" y2="179.5"/><line x1="674.7" y1="179.5" x2="670.5" y2="179.5"/><line x1="306.3" y1="169.6" x2="308.7" y2="169.6"/><line x1="674.7" y1="169.6" x2="672.3" y2="169.6"/><line x1="306.3" y1="159.7" x2="308.7" y2="159.7"/><line x1="674.7" y1="159.7" x2="672.3" y2="159.7"/><line x1="306.3" y1="149.7" x2="308.7" y2="149.7"/><line x1="674.7" y1="149.7" x2="672.3" y2="149.7"/><line x1="306.3" y1="139.8" x2="308.7" y2="139.8"/><line x1="674.7" y1="139.8" x2="672.3" y2="139.8"/><line x1="306.3" y1="129.8" x2="310.5" y2="129.8"/><line x1="674.7" y1="129.8" x2="670.5" y2="129.8"/><line x1="306.3" y1="119.9" x2="308.7" y2="119.9"/><line x1="674.7" y1="119.9" x2="672.3" y2="119.9"/><line x1="306.3" y1="110.0" x2="308.7" y2="110.0"/><line x1="674.7" y1="110.0" x2="672.3" y2="110.0"/><line x1="306.3" y1="100.0" x2="308.7" y2="100.0"/><line x1="674.7" y1="100.0" x2="672.3" y2="100.0"/><line x1="306.3" y1="90.1" x2="308.7" y2="90.1"/><line x1="674.7" y1="90.1" x2="672.3" y2="90.1"/><line x1="306.3" y1="80.2" x2="310.5" y2="80.2"/><line x1="674.7" y1="80.2" x2="670.5" y2="80.2"/><line x1="306.3" y1="70.2" x2="308.7" y2="70.2"/><line x1="674.7" y1="70.2" x2="672.3" y2="70.2"/><line x1="306.3" y1="60.3" x2="308.7" y2="60.3"/><line x1="674.7" y1="60.3" x2="672.3" y2="60.3"/><line x1="306.3" y1="50.4" x2="308.7" y2="50.4"/><line x1="674.7" y1="50.4" x2="672.3" y2="50.4"/><line x1="306.3" y1="40.4" x2="308.7" y2="40.4"/><line x1="674.7" y1="40.4" x2="672.3" y2="40.4"/><line x1="306.3" y1="30.5" x2="310.5" y2="30.5"/><line x1="674.7" y1="30.5" x2="670.5" y2="30.5"/><line x1="306.3" y1="20.6" x2="308.7" y2="20.6"/><line x1="674.7" y1="20.6" x2="672.3" y2="20.6"/><line x1="306.3" y1="10.6" x2="308.7" y2="10.6"/><line x1="674.7" y1="10.6" x2="672.3" y2="10.6"/><line x1="306.3" y1="0.7" x2="308.7" y2="0.7"/><line x1="674.7" y1="0.7" x2="672.3" y2="0.7"/></g>

<!-- purple -->
<path d="M383.2 158.8 L398.2 148.9 L414.2 139.8 L429.2 131.8 L444.7 125.0 L455.8 120.3 L497.1 102.2 L517.3 93.1 L543.2 82.2 L574.4 70.6 L599.5 60.8 L630.1 49.5 L662.6 37.4 L673.4 33.7" stroke="#800080" stroke-width="1.7" fill="none"/>
<circle cx="383.2" cy="158.8" r="2.65" fill="#800080"/>
<circle cx="388.4" cy="155.4" r="2.65" fill="#800080"/>
<circle cx="393.5" cy="152.0" r="2.65" fill="#800080"/>
<circle cx="398.7" cy="148.6" r="2.65" fill="#800080"/>
<circle cx="403.8" cy="145.7" r="2.65" fill="#800080"/>
<circle cx="409.0" cy="142.8" r="2.65" fill="#800080"/>
<circle cx="414.2" cy="139.8" r="2.65" fill="#800080"/>
<circle cx="419.3" cy="137.1" r="2.65" fill="#800080"/>
<circle cx="424.5" cy="134.3" r="2.65" fill="#800080"/>
<circle cx="429.6" cy="131.6" r="2.65" fill="#800080"/>
<circle cx="434.8" cy="129.3" r="2.65" fill="#800080"/>
<circle cx="440.0" cy="127.1" r="2.65" fill="#800080"/>
<circle cx="445.1" cy="124.8" r="2.65" fill="#800080"/>
<circle cx="450.3" cy="122.6" r="2.65" fill="#800080"/>
<circle cx="455.4" cy="120.5" r="2.65" fill="#800080"/>
<circle cx="460.6" cy="118.2" r="2.65" fill="#800080"/>
<circle cx="465.8" cy="115.9" r="2.65" fill="#800080"/>
<circle cx="470.9" cy="113.7" r="2.65" fill="#800080"/>
<circle cx="476.1" cy="111.4" r="2.65" fill="#800080"/>
<circle cx="481.2" cy="109.2" r="2.65" fill="#800080"/>
<circle cx="486.4" cy="106.9" r="2.65" fill="#800080"/>
<circle cx="491.6" cy="104.6" r="2.65" fill="#800080"/>
<circle cx="496.7" cy="102.4" r="2.65" fill="#800080"/>
<circle cx="501.9" cy="100.0" r="2.65" fill="#800080"/>
<circle cx="507.0" cy="97.7" r="2.65" fill="#800080"/>
<circle cx="512.2" cy="95.4" r="2.65" fill="#800080"/>
<circle cx="517.4" cy="93.1" r="2.65" fill="#800080"/>
<circle cx="522.5" cy="90.9" r="2.65" fill="#800080"/>
<circle cx="527.7" cy="88.7" r="2.65" fill="#800080"/>
<circle cx="532.8" cy="86.6" r="2.65" fill="#800080"/>
<circle cx="538.0" cy="84.4" r="2.65" fill="#800080"/>
<circle cx="543.2" cy="82.2" r="2.65" fill="#800080"/>
<circle cx="574.4" cy="70.6" r="2.65" fill="#800080"/>
<circle cx="584.7" cy="66.6" r="2.65" fill="#800080"/>
<circle cx="589.8" cy="64.6" r="2.65" fill="#800080"/>
<circle cx="595.0" cy="62.6" r="2.65" fill="#800080"/>
<circle cx="600.1" cy="60.6" r="2.65" fill="#800080"/>
<circle cx="605.2" cy="58.7" r="2.65" fill="#800080"/>
<circle cx="610.4" cy="56.8" r="2.65" fill="#800080"/>
<circle cx="615.5" cy="54.9" r="2.65" fill="#800080"/>
<circle cx="620.7" cy="53.0" r="2.65" fill="#800080"/>
<circle cx="625.8" cy="51.1" r="2.65" fill="#800080"/>
<circle cx="630.9" cy="49.2" r="2.65" fill="#800080"/>
<circle cx="636.1" cy="47.3" r="2.65" fill="#800080"/>
<circle cx="641.2" cy="45.4" r="2.65" fill="#800080"/>
<circle cx="646.4" cy="43.4" r="2.65" fill="#800080"/>
<circle cx="651.5" cy="41.5" r="2.65" fill="#800080"/>
<circle cx="656.6" cy="39.6" r="2.65" fill="#800080"/>
<circle cx="661.8" cy="37.7" r="2.65" fill="#800080"/>
<circle cx="666.9" cy="35.9" r="2.65" fill="#800080"/>
<path d="M666.3 36.3 L673.6 34.0" stroke="#000" stroke-width="2.7" fill="none"/>
<!-- blue dots -->
<circle cx="393.2" cy="186.0" r="2.65" fill="#0000ff"/>
<circle cx="398.4" cy="183.8" r="2.65" fill="#0000ff"/>
<circle cx="403.6" cy="181.5" r="2.65" fill="#0000ff"/>
<circle cx="408.8" cy="179.3" r="2.65" fill="#0000ff"/>
<circle cx="414.0" cy="177.0" r="2.65" fill="#0000ff"/>
<circle cx="419.2" cy="175.0" r="2.65" fill="#0000ff"/>
<circle cx="424.5" cy="172.9" r="2.65" fill="#0000ff"/>
<circle cx="429.7" cy="170.9" r="2.65" fill="#0000ff"/>
<circle cx="434.9" cy="168.9" r="2.65" fill="#0000ff"/>
<circle cx="440.1" cy="166.8" r="2.65" fill="#0000ff"/>
<circle cx="445.3" cy="164.9" r="2.65" fill="#0000ff"/>
<circle cx="450.5" cy="163.0" r="2.65" fill="#0000ff"/>
<circle cx="455.7" cy="161.0" r="2.65" fill="#0000ff"/>
<circle cx="460.9" cy="159.1" r="2.65" fill="#0000ff"/>
<circle cx="466.1" cy="157.2" r="2.65" fill="#0000ff"/>
<circle cx="471.4" cy="155.2" r="2.65" fill="#0000ff"/>
<circle cx="476.6" cy="153.3" r="2.65" fill="#0000ff"/>
<circle cx="481.8" cy="151.4" r="2.65" fill="#0000ff"/>
<circle cx="487.0" cy="149.6" r="2.65" fill="#0000ff"/>
<circle cx="492.2" cy="147.7" r="2.65" fill="#0000ff"/>
<circle cx="497.4" cy="145.8" r="2.65" fill="#0000ff"/>
<circle cx="398.8" cy="176.9" r="2.65" fill="#0000ff"/>
<circle cx="404.0" cy="173.9" r="2.65" fill="#0000ff"/>
<circle cx="409.2" cy="171.5" r="2.65" fill="#0000ff"/>
<circle cx="414.3" cy="169.6" r="2.65" fill="#0000ff"/>
<circle cx="419.5" cy="167.7" r="2.65" fill="#0000ff"/>
<circle cx="429.8" cy="163.7" r="2.65" fill="#0000ff"/>
<circle cx="440.2" cy="160.1" r="2.65" fill="#0000ff"/>
<circle cx="445.4" cy="158.3" r="2.65" fill="#0000ff"/>
<circle cx="450.5" cy="156.4" r="2.65" fill="#0000ff"/>
<circle cx="455.7" cy="154.6" r="2.65" fill="#0000ff"/>
<circle cx="460.8" cy="152.8" r="2.65" fill="#0000ff"/>
<circle cx="466.0" cy="150.9" r="2.65" fill="#0000ff"/>
<circle cx="471.1" cy="149.1" r="2.65" fill="#0000ff"/>
<circle cx="476.3" cy="147.3" r="2.65" fill="#0000ff"/>
<circle cx="481.4" cy="145.4" r="2.65" fill="#0000ff"/>
<circle cx="486.6" cy="143.6" r="2.65" fill="#0000ff"/>
<circle cx="491.7" cy="141.8" r="2.65" fill="#0000ff"/>
<circle cx="496.9" cy="139.9" r="2.65" fill="#0000ff"/>
<circle cx="502.0" cy="138.1" r="2.65" fill="#0000ff"/>
<circle cx="507.2" cy="136.3" r="2.65" fill="#0000ff"/>
<circle cx="512.3" cy="134.5" r="2.65" fill="#0000ff"/>
<circle cx="517.5" cy="132.6" r="2.65" fill="#0000ff"/>
<circle cx="522.6" cy="130.8" r="2.65" fill="#0000ff"/>
<circle cx="527.8" cy="129.0" r="2.65" fill="#0000ff"/>
<circle cx="532.9" cy="127.1" r="2.65" fill="#0000ff"/>
<circle cx="538.1" cy="125.3" r="2.65" fill="#0000ff"/>
<circle cx="543.2" cy="123.5" r="2.65" fill="#0000ff"/>
<circle cx="548.4" cy="121.6" r="2.65" fill="#0000ff"/>
<circle cx="553.5" cy="119.8" r="2.65" fill="#0000ff"/>
<circle cx="558.7" cy="118.0" r="2.65" fill="#0000ff"/>
<circle cx="563.8" cy="116.1" r="2.65" fill="#0000ff"/>
<circle cx="569.0" cy="114.3" r="2.65" fill="#0000ff"/>
<!-- stars -->
<g stroke="#ff0000" stroke-width="2.0" stroke-linecap="butt"><line x1="515.4" y1="77.4" x2="515.4" y2="88.2"/><line x1="510.7" y1="80.1" x2="520.1" y2="85.5"/><line x1="520.1" y1="80.1" x2="510.7" y2="85.5"/><line x1="513.0" y1="97.5" x2="513.0" y2="108.3"/><line x1="508.3" y1="100.2" x2="517.7" y2="105.6"/><line x1="517.7" y1="100.2" x2="508.3" y2="105.6"/><line x1="526.7" y1="95.3" x2="526.7" y2="106.1"/><line x1="522.0" y1="98.0" x2="531.4" y2="103.4"/><line x1="531.4" y1="98.0" x2="522.0" y2="103.4"/><line x1="561.2" y1="78.4" x2="561.2" y2="89.2"/><line x1="556.5" y1="81.1" x2="565.9" y2="86.5"/><line x1="565.9" y1="81.1" x2="556.5" y2="86.5"/><line x1="568.2" y1="78.4" x2="568.2" y2="89.2"/><line x1="563.5" y1="81.1" x2="572.9" y2="86.5"/><line x1="572.9" y1="81.1" x2="563.5" y2="86.5"/></g>
<!-- arrow -->
<g stroke="#7a3a1a" fill="#7a3a1a"><line x1="603.6" y1="105.4" x2="582" y2="82.8" stroke-width="1"/><path d="M580.6 81.3 L585.6 83.6 L583 86.2 Z" stroke="none"/></g>
<!-- labels -->
<text x="463.4" y="19.4" font-size="16" fill="#13328c">v<tspan font-size="11" dy="4.7" letter-spacing="0.3">LA</tspan></text>
<text x="568.4" y="19.7" font-size="16" fill="#8a3c12"><tspan class="ser" font-size="17">√</tspan><tspan class="ser" font-size="14.5">2</tspan>v<tspan font-size="11" dy="4.5" letter-spacing="0.3">TA</tspan></text>
<text x="623.8" y="19.3" font-size="16" fill="#2f7d1f">v<tspan font-size="11" dy="4.8" letter-spacing="0.3">TA</tspan></text>
<text x="625.3" y="67.9" font-size="14.4" fill="#ff0000">SAW<tspan font-size="10" dy="4">3</tspan></text>
<text x="538.4" y="139.6" font-size="14.4" fill="#16388f">SAW<tspan font-size="9.6" dy="4.3">2</tspan></text>
<text x="472.8" y="174.9" font-size="14.4" fill="#16388f">SAW<tspan font-size="9.6" dy="4.3">1</tspan></text>
<text x="591.5" y="114.2" font-size="16" fill="#7030a0">v<tspan font-size="11" dy="4.7">SAW</tspan></text>
</svg>
</body></html>
